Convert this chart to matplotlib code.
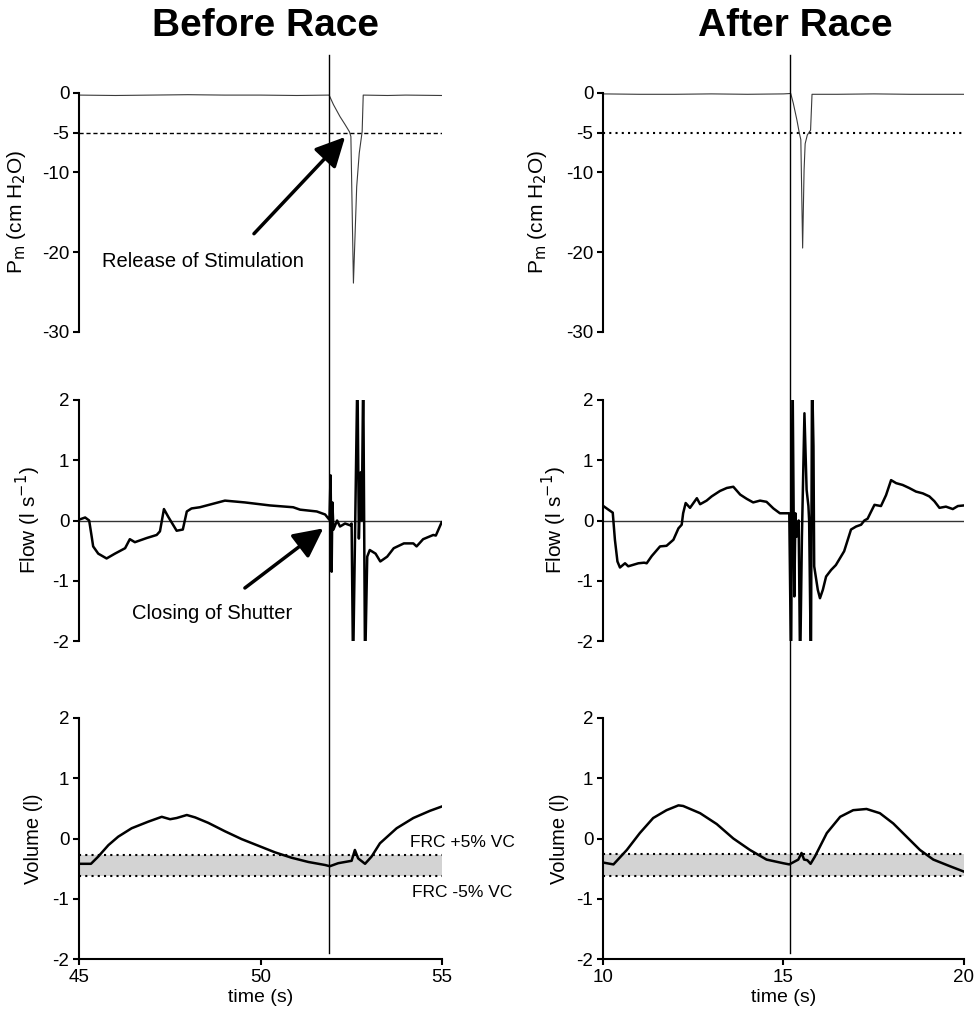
import numpy as np
import matplotlib
matplotlib.use("Agg")
import matplotlib.pyplot as plt
from matplotlib.lines import Line2D
from matplotlib.transforms import blended_transform_factory

plt.rcParams['font.family'] = ['Liberation Sans', 'DejaVu Sans']
plt.rcParams['axes.unicode_minus'] = False

# ---- data ----
# Before race, mouth pressure (cm H2O)
pm_before_t = [45.0, 46.0, 47.0, 48.0, 49.0, 50.0, 51.0, 51.89, 52.01, 52.19, 52.33,
               52.45, 52.49, 52.56, 52.65, 52.72, 52.77, 52.80, 52.83, 53.5, 54.0, 55.0]
pm_before = [-0.3, -0.35, -0.3, -0.25, -0.3, -0.3, -0.35, -0.3, -1.5, -3.0, -4.0,
             -4.9, -5.5, -23.9, -11.8, -7.6, -5.9, -4.9, -0.3, -0.35, -0.3, -0.35]

# After race, mouth pressure
pm_after_t = [10.0, 11.0, 12.0, 13.0, 14.0, 15.0, 15.20, 15.27, 15.37, 15.44, 15.48,
              15.53, 15.57, 15.60, 15.66, 15.75, 15.79, 16.5, 17.5, 18.5, 20.0]
pm_after = [-0.15, -0.2, -0.2, -0.15, -0.2, -0.15, -0.1, -1.3, -3.4, -5.1, -5.9,
            -19.5, -9.7, -6.4, -5.3, -4.7, -0.2, -0.2, -0.15, -0.2, -0.2]

# Before race, flow (l/s)
flow_before_t = [45.03, 45.17, 45.28, 45.35, 45.39, 45.53, 45.76, 45.99, 46.27, 46.40,
                 46.54, 46.87, 47.14, 47.23, 47.34, 47.46, 47.69, 47.86, 47.97, 48.10,
                 48.33, 49.02, 49.57, 50.26, 50.90, 51.09, 51.55, 51.78, 51.90, 51.93,
                 51.96, 51.98, 52.01, 52.11, 52.19, 52.33, 52.47, 52.51, 52.55, 52.67,
                 52.71, 52.76, 52.79, 52.83, 52.88, 52.94, 53.01, 53.17, 53.30, 53.49,
                 53.67, 53.95, 54.21, 54.30, 54.48, 54.76, 54.83, 54.99]
flow_before = [0.02, 0.05, 0.0, -0.27, -0.43, -0.55, -0.63, -0.55, -0.46, -0.31,
               -0.36, -0.29, -0.24, -0.18, 0.19, 0.06, -0.17, -0.15, 0.15, 0.2,
               0.22, 0.33, 0.3, 0.25, 0.22, 0.18, 0.15, 0.1, 0.01, 0.75,
               -0.85, 0.3, -0.15, 0.0, -0.1, -0.05, -0.08, -0.05, -2.5, 2.5,
               -0.3, 0.8, 0.0, 2.5, -2.5, -0.6, -0.49, -0.55, -0.68, -0.6,
               -0.46, -0.38, -0.38, -0.43, -0.31, -0.24, -0.25, -0.03]

# After race, flow
flow_after_t = [10.01, 10.15, 10.27, 10.33, 10.40, 10.47, 10.61, 10.70, 10.98, 11.14,
                11.21, 11.35, 11.58, 11.76, 11.95, 12.09, 12.18, 12.22, 12.29, 12.41,
                12.60, 12.69, 12.87, 13.01, 13.24, 13.43, 13.61, 13.80, 13.98, 14.16,
                14.35, 14.53, 14.72, 14.90, 15.04, 15.16, 15.21, 15.25, 15.30, 15.33,
                15.36, 15.42, 15.46, 15.51, 15.58, 15.64, 15.69, 15.71, 15.76, 15.79,
                15.83, 15.85, 15.95, 16.01, 16.09, 16.18, 16.32, 16.45, 16.68, 16.87,
                17.01, 17.15, 17.24, 17.33, 17.42, 17.52, 17.70, 17.84, 17.98, 18.12,
                18.30, 18.48, 18.67, 18.86, 19.04, 19.18, 19.32, 19.50, 19.69, 19.83, 20.0]
flow_after = [0.24, 0.18, 0.13, -0.32, -0.68, -0.78, -0.71, -0.76, -0.71, -0.70,
              -0.71, -0.59, -0.43, -0.42, -0.32, -0.13, -0.07, 0.12, 0.29, 0.21,
              0.37, 0.27, 0.33, 0.40, 0.49, 0.54, 0.56, 0.43, 0.36, 0.30,
              0.33, 0.31, 0.20, 0.12, 0.12, 0.12, -2.5, 2.5, -1.26, 0.12,
              -0.27, 0.0, -2.5, -0.27, 1.78, 0.51, 0.24, 0.0, -2.5, 2.5,
              1.23, -0.76, -1.15, -1.29, -1.15, -0.93, -0.82, -0.74, -0.51, -0.15,
              -0.1, -0.07, 0.0, 0.03, 0.14, 0.26, 0.24, 0.42, 0.67, 0.62,
              0.59, 0.54, 0.48, 0.45, 0.40, 0.32, 0.21, 0.23, 0.19, 0.24, 0.25]

# Before race, volume (l)
vol_before_t = [45.03, 45.33, 45.53, 45.81, 46.08, 46.45, 46.91, 47.28, 47.51, 47.69,
                47.97, 48.20, 48.56, 49.02, 49.48, 49.94, 50.40, 50.86, 51.32, 51.78,
                51.91, 52.14, 52.51, 52.60, 52.69, 52.88, 53.06, 53.29, 53.75, 54.21,
                54.67, 54.99]
vol_before = [-0.42, -0.42, -0.30, -0.11, 0.03, 0.17, 0.28, 0.36, 0.32, 0.34,
              0.39, 0.35, 0.26, 0.12, -0.01, -0.12, -0.23, -0.32, -0.39, -0.44,
              -0.46, -0.41, -0.37, -0.19, -0.33, -0.42, -0.30, -0.08, 0.17, 0.34,
              0.46, 0.53]

# After race, volume
vol_after_t = [10.01, 10.29, 10.66, 11.02, 11.39, 11.76, 12.09, 12.22, 12.69, 13.15,
               13.61, 14.07, 14.53, 14.99, 15.16, 15.41, 15.50, 15.57, 15.66, 15.75,
               15.87, 16.20, 16.57, 16.93, 17.30, 17.67, 18.04, 18.41, 18.78, 19.15,
               19.61, 20.0]
vol_after = [-0.40, -0.43, -0.19, 0.09, 0.34, 0.47, 0.55, 0.54, 0.42, 0.24,
             0.0, -0.19, -0.35, -0.41, -0.43, -0.35, -0.24, -0.35, -0.36, -0.42,
             -0.30, 0.09, 0.36, 0.47, 0.49, 0.42, 0.25, 0.03, -0.19, -0.35,
             -0.46, -0.55]

cut_before = 51.89     # time of shutter closing / release
cut_after = 15.18
frc_before = (-0.27, -0.63)   # FRC +/-5% VC band
frc_after = (-0.26, -0.62)
pm_ref = -5.0

W, H = 976, 1016
fig = plt.figure(figsize=(W / 100, H / 100), dpi=100)

lefts = [79 / W, 603 / W]
widths = [363 / W, 361 / W]
rows = [(1 - 331.7 / H, 239 / H), (1 - 641 / H, 241 / H), (1 - 959 / H, 241 / H)]

cols = [
    dict(title='Before Race', xlim=(45, 55), xt=[45, 50, 55], pm_t=pm_before_t, pm=pm_before,
         fl_t=flow_before_t, fl=flow_before, v_t=vol_before_t, v=vol_before,
         cut=cut_before, frc=frc_before, pm_ls=(0, (3, 2)), pm_lw=1.0),
    dict(title='After Race', xlim=(10, 20), xt=[10, 15, 20], pm_t=pm_after_t, pm=pm_after,
         fl_t=flow_after_t, fl=flow_after, v_t=vol_after_t, v=vol_after,
         cut=cut_after, frc=frc_after, pm_ls=(0, (1, 2)), pm_lw=1.5),
]

label_x = [[-0.14, -0.10, -0.10], [-0.15, -0.095, -0.095]]
axes = []
for ci, c in enumerate(cols):
    col_axes = []
    for ri, (b, h) in enumerate(rows):
        ax = fig.add_axes([lefts[ci], b, widths[ci], h])
        ax.set_xlim(*c['xlim'])
        for s in ['top', 'right']:
            ax.spines[s].set_visible(False)
        ax.spines['left'].set_linewidth(1.5)
        ax.spines['bottom'].set_linewidth(1.5)
        ax.tick_params(direction='out', length=4, width=1.5, labelsize=13.5, pad=3)
        if ri < 2:
            ax.spines['bottom'].set_visible(False)
            ax.set_xticks([])
        col_axes.append(ax)
    axes.append(col_axes)

    ax_p, ax_f, ax_v = col_axes
    # pressure
    ax_p.plot(c['pm_t'], c['pm'], color='#3a3a3a', lw=0.8)
    ax_p.axhline(pm_ref, color='black', lw=c['pm_lw'], linestyle=c['pm_ls'])
    ax_p.set_ylim(-30, 0)
    ax_p.set_yticks([0, -5, -10, -20, -30])
    ax_p.set_ylabel(r'P$_\mathrm{m}$ (cm H$_2$O)', fontsize=15)

    # flow
    ax_f.axhline(0, color='#333333', lw=1.0)
    ax_f.plot(c['fl_t'], c['fl'], color='black', lw=1.8)
    ax_f.set_ylim(-2, 2)
    ax_f.set_yticks([-2, -1, 0, 1, 2])
    ax_f.set_ylabel(r'Flow (l s$^{-1}$)', fontsize=15)

    # volume
    ax_v.axhspan(c['frc'][1], c['frc'][0], color='#d3d3d3', lw=0)
    for yv in c['frc']:
        ax_v.axhline(yv, color='black', lw=1.5, linestyle=(0, (1, 2)))
    ax_v.plot(c['v_t'], c['v'], color='black', lw=1.8)
    ax_v.set_ylim(-2, 2)
    ax_v.set_yticks([-2, -1, 0, 1, 2])
    ax_v.set_xticks(c['xt'])
    ax_v.set_ylabel('Volume (l)', fontsize=14.5)
    ax_v.set_xlabel('time (s)', fontsize=14, labelpad=2)

    for ri, ax in enumerate(col_axes):
        ax.yaxis.set_label_coords(label_x[ci][ri], 0.5)

    # vertical marker through all three panels
    tr = blended_transform_factory(ax_v.transData, fig.transFigure)
    fig.add_artist(Line2D([c['cut'], c['cut']], [1 - 55 / H, 1 - 953 / H],
                          transform=tr, color='black', lw=1.0))

    fig.text((lefts[ci] + widths[ci] / 2) + (0.005 if ci == 0 else 0.012), 1 - 26 / H, c['title'],
             ha='center', va='center', fontsize=28, fontweight='bold')

# annotations (left column)
ax_p, ax_f, ax_v = axes[0]
arrow = dict(arrowstyle='-|>,head_length=0.9,head_width=0.45', lw=2.5, color='black',
             mutation_scale=20, shrinkA=0, shrinkB=0)
ax_p.annotate('', xy=(52.33, -5.56), xytext=(49.82, -17.7), arrowprops=arrow)
ax_p.text(48.42, -21.24, 'Release of Stimulation', ha='center', va='center', fontsize=14.5)
ax_f.annotate('', xy=(51.73, -0.13), xytext=(49.57, -1.12), arrowprops=arrow)
ax_f.text(48.66, -1.55, 'Closing of Shutter', ha='center', va='center', fontsize=14.5)
ax_v.text(55.55, -0.07, 'FRC +5% VC', ha='center', va='center', fontsize=12.5, clip_on=False)
ax_v.text(55.55, -0.89, 'FRC -5% VC', ha='center', va='center', fontsize=12.5, clip_on=False)

fig.savefig('out.png', dpi=100)
